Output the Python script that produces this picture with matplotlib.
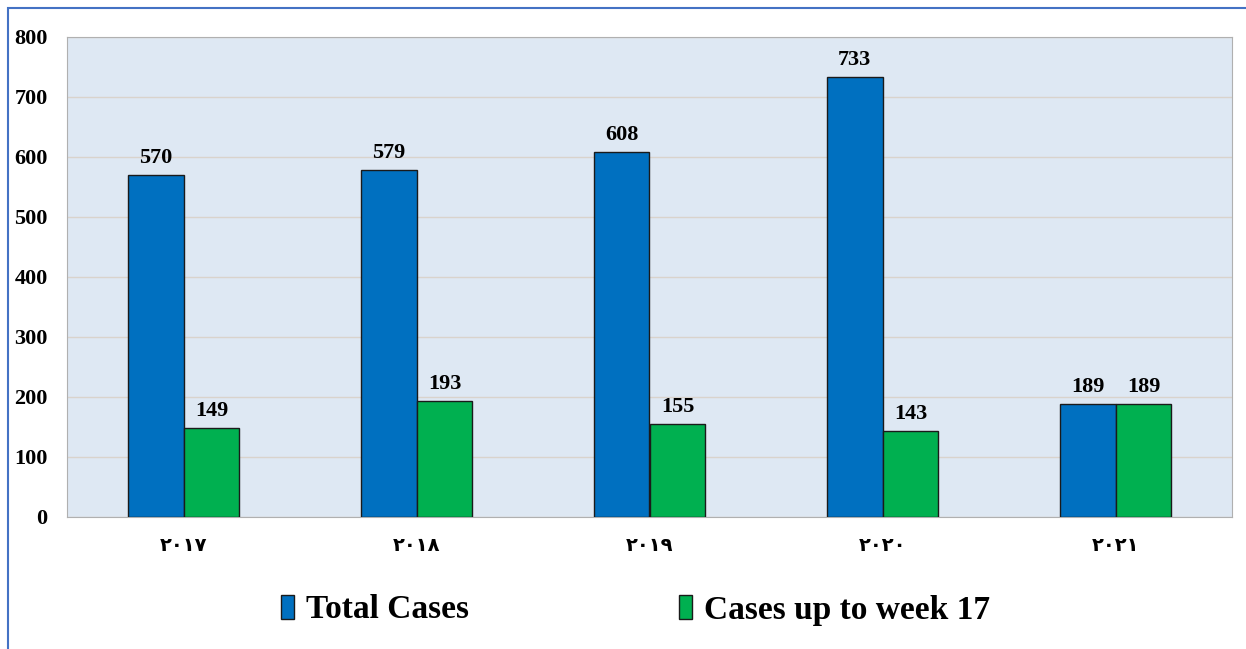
import matplotlib.pyplot as plt
import numpy as np
from matplotlib.patches import Rectangle

years = ["٢٠١٧", "٢٠١٨", "٢٠١٩", "٢٠٢٠", "٢٠٢١"]
total_cases = [570, 579, 608, 733, 189]
week17_cases = [149, 193, 155, 143, 189]

serif = ["Liberation Serif", "DejaVu Serif", "DejaVu Sans"]

fig = plt.figure(figsize=(12.46, 6.49), dpi=100)
ax = fig.add_axes([67 / 1246, 1 - 517 / 649, (1232 - 67) / 1246, (517 - 37) / 649])

x = np.arange(len(years))
w = 0.24
b1 = ax.bar(x - w / 2, total_cases, w, color="#0070C0", edgecolor="#1a1a1a",
            linewidth=1, label="Total Cases", zorder=3)
b2 = ax.bar(x + w / 2, week17_cases, w, color="#00B050", edgecolor="#1a1a1a",
            linewidth=1, label="Cases up to week 17", zorder=3)

for bars in (b1, b2):
    for r in bars:
        ax.annotate(f"{int(r.get_height())}", (r.get_x() + r.get_width() / 2, r.get_height()),
                    xytext=(0, 5), textcoords="offset points", ha="center", va="bottom",
                    fontsize=16, fontweight="bold", family=serif)

ax.set_facecolor("#DEE8F3")
ax.set_xlim(-0.5, len(years) - 0.5)
ax.set_ylim(0, 800)
ax.set_yticks(range(0, 801, 100))
ax.set_xticks(x)
ax.set_xticklabels(years, fontsize=14, fontweight="bold", family=["DejaVu Sans"])
for lab in ax.get_yticklabels():
    lab.set_fontsize(16)
    lab.set_fontweight("bold")
    lab.set_family(serif)

ax.grid(axis="y", color="#D9D3CC", linewidth=1, zorder=0)
ax.set_axisbelow(True)
for s in ax.spines.values():
    s.set_color("#B0B0B0")
ax.tick_params(axis="both", length=0)
ax.tick_params(axis="x", pad=14)
ax.tick_params(axis="y", pad=14)

leg = fig.legend(handles=[b1, b2], loc="center", bbox_to_anchor=(0.51, 1 - 610 / 649),
                 ncol=2, frameon=False, columnspacing=6.3, handlelength=0.4,
                 handleheight=0.75, handletextpad=0.35,
                 prop={"family": serif, "weight": "bold", "size": 24})

# blue figure border (cropped on right/bottom)
fig.patches.append(Rectangle((8 / 1246, -0.1), 1.2, 1 - 8 / 649 + 0.1,
                             transform=fig.transFigure, fill=False,
                             edgecolor="#4472C4", linewidth=1.5))

plt.savefig("out.png", dpi=100)
